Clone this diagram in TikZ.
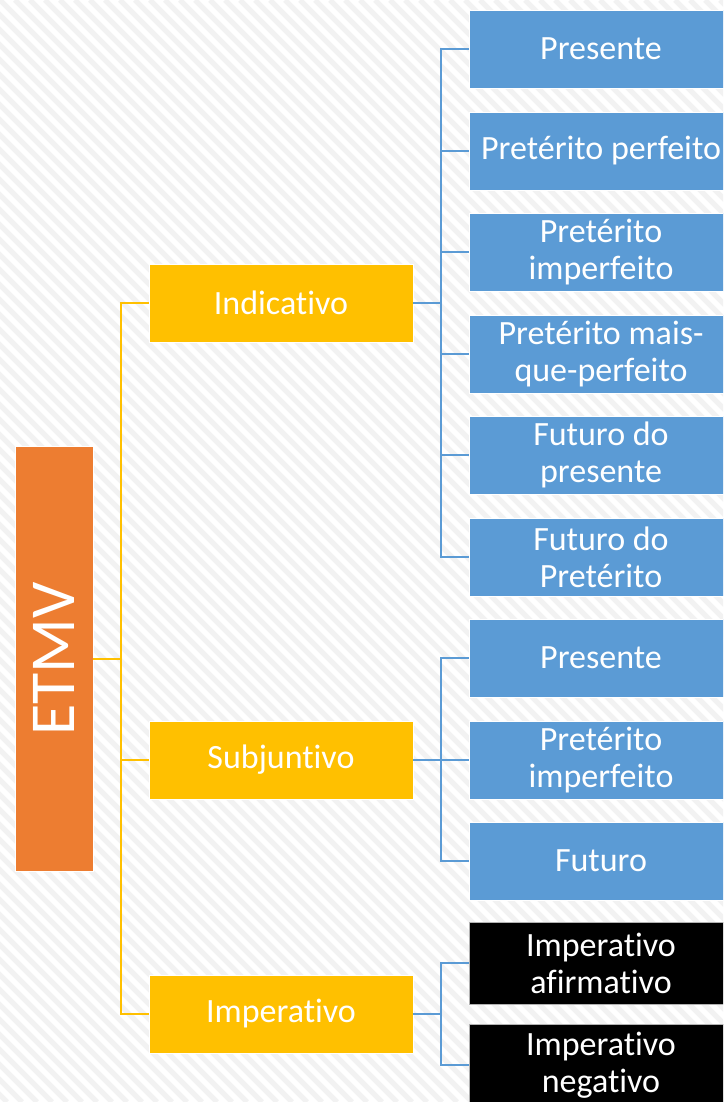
\documentclass[tikz,border=0pt]{standalone}
\usepackage{fontspec}
\setmainfont{Carlito}[Ligatures={NoCommon,NoContextual,NoRare},Contextuals=NoAlternate]
\definecolor{etmvorange}{HTML}{ED7D31}
\definecolor{modoyellow}{HTML}{FFC000}
\definecolor{tempoblue}{HTML}{5B9BD5}
\definecolor{stripegray}{HTML}{F2F2F2}

\begin{document}
\begin{tikzpicture}[x=1pt,y=-1pt]
\tikzstyle{every node}+=[inner sep=0pt]
\tikzstyle{caixa}=[draw=white, line width=0.6pt, minimum width=264pt, minimum height=78pt, text=white, align=center, font=\fontsize{34}{37}\selectfont]
\tikzstyle{modo}=[caixa, fill=modoyellow]
\tikzstyle{tempo}=[caixa, fill=tempoblue]
\tikzstyle{imper}=[caixa, fill=black, draw=gray!60, minimum height=82pt]
\tikzstyle{ligamodo}=[draw=modoyellow, line width=2.2pt]
\tikzstyle{ligatempo}=[draw=tempoblue, line width=2.2pt]
\useasboundingbox (0,0) rectangle (723,1102);
\clip (0,0) rectangle (723,1102);
\fill [white] (0,0) rectangle (723,1102);
\foreach \pos in {-1110,-1095,...,735}
  \draw [stripegray, line width=5pt] (\pos,0) -- (\pos+1102,1102);
\node [fill=etmvorange, draw=white, line width=0.6pt, minimum width=425pt, minimum height=78pt, rotate=90, text=white, font=\fontsize{64}{64}\selectfont] (etmv) at (54,659) {ETMV};
\node [modo] (ind) at (281,303) {Indicativo};
\node [modo] (sub) at (281,760) {Subjuntivo};
\node [modo] (imp) at (281,1014) {Imperativo};
\node [tempo] (ipres) at (601,49) {Presente};
\node [tempo] (iperf) at (601,151) {Pretérito perfeito};
\node [tempo] (iimp) at (601,252) {Pretérito\\imperfeito};
\node [tempo] (imais) at (601,354) {Pretérito mais-\\que-perfeito};
\node [tempo] (ifpres) at (601,455) {Futuro do\\presente};
\node [tempo] (ifpret) at (601,557) {Futuro do\\Pretérito};
\node [tempo] (spres) at (601,658) {Presente};
\node [tempo] (simp) at (601,760) {Pretérito\\imperfeito};
\node [tempo] (sfut) at (601,861) {Futuro};
\node [imper] (iafirm) at (601,963) {Imperativo\\afirmativo};
\node [imper] (ineg) at (601,1065) {Imperativo\\negativo};
\coordinate (troncomodo) at (121,659);
\draw [ligamodo] (etmv.south) -- (troncomodo);
\foreach \filho in {ind,sub,imp}
  \draw [ligamodo] (troncomodo) |- (\filho.west);
\coordinate (troncoind) at (441,303);
\draw [ligatempo] (ind.east) -- (troncoind);
\foreach \filho in {ipres,iperf,iimp,imais,ifpres,ifpret}
  \draw [ligatempo] (troncoind) |- (\filho.west);
\coordinate (troncosub) at (441,760);
\draw [ligatempo] (sub.east) -- (troncosub);
\foreach \filho in {spres,simp,sfut}
  \draw [ligatempo] (troncosub) |- (\filho.west);
\coordinate (troncoimp) at (441,1014);
\draw [ligatempo] (imp.east) -- (troncoimp);
\foreach \filho in {iafirm,ineg}
  \draw [ligatempo] (troncoimp) |- (\filho.west);
\end{tikzpicture}
\end{document}
